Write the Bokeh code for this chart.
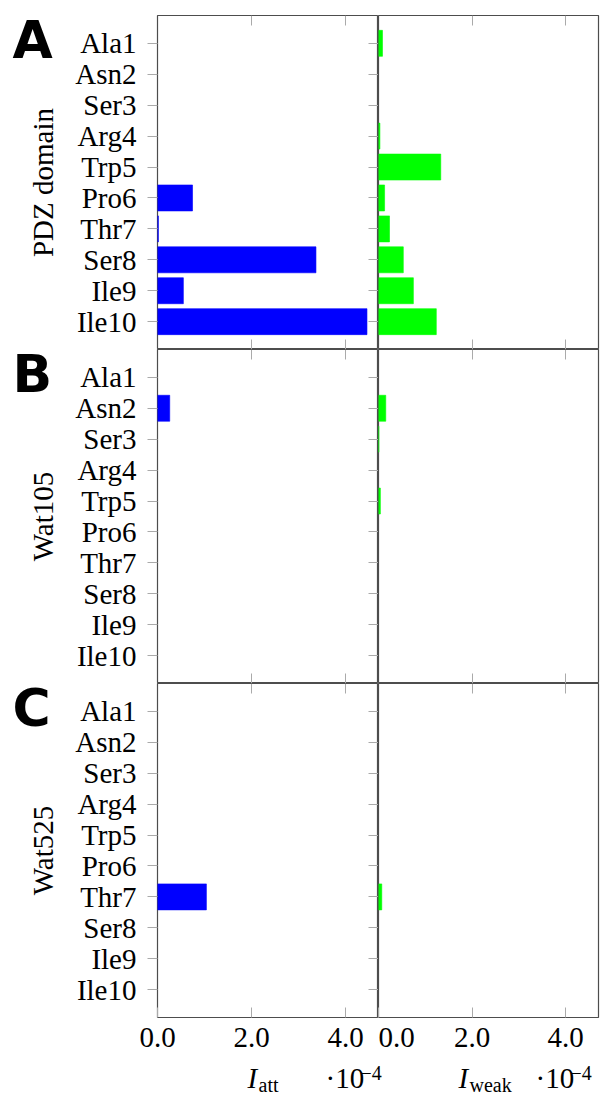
import math
from bokeh.plotting import figure
from bokeh.models import (FactorRange, Range1d, CategoricalAxis, LinearAxis, FixedTicker,
                          PrintfTickFormatter, Label, ColumnDataSource)
from bokeh.layouts import row, column
from bokeh.embed import file_html
from bokeh.resources import INLINE

# ---------------- data (intensities in units of 1e-4) ----------------
residues = ["Ala1", "Asn2", "Ser3", "Arg4", "Trp5", "Pro6", "Thr7", "Ser8", "Ile9", "Ile10"]
row_letters = ["A", "B", "C"]
row_titles = ["PDZ domain", "Wat105", "Wat525"]

i_att_pdz = [0, 0, 0, 0, 0, 0.745, 0.02, 3.37, 0.55, 4.455]
i_weak_pdz = [0.085, 0, 0, 0.03, 1.33, 0.13, 0.235, 0.53, 0.745, 1.235]
i_att_wat105 = [0, 0.26, 0, 0, 0, 0, 0, 0, 0, 0]
i_weak_wat105 = [0, 0.155, 0.01, 0, 0.04, 0, 0, 0, 0, 0]
i_att_wat525 = [0, 0, 0, 0, 0, 0, 1.04, 0, 0, 0]
i_weak_wat525 = [0, 0, 0, 0, 0, 0, 0.07, 0, 0, 0]

att_rows = [i_att_pdz, i_att_wat105, i_att_wat525]
weak_rows = [i_weak_pdz, i_weak_wat105, i_weak_wat525]

x_ticks = [0, 2, 4]
x_max = 4.7
pad = 0.4

# ---------------- styling / layout ----------------
SERIF = "Liberation Serif"
FS = "29px"
SUB = "20px"
TICK = "#aaaaaa"
EDGE = "#4d4d4d"
BLUE = "#0000ff"
GREEN = "#00ff00"

PAGE_W, PAGE_H = 611, 1095
TEXT_COL_W = 67
LEFT_BORDER = 90
FRAME_H = 334
TOP_BORDER = 15
BOTTOM_BORDER = 44
STRIP_H = PAGE_H - TOP_BORDER - 3 * FRAME_H - BOTTOM_BORDER

y_lo = -pad
y_hi = len(residues) + pad


def blank_fig(w, h):
    f = figure(width=w, height=h, min_border=0, min_border_left=0, min_border_right=0,
               min_border_top=0, min_border_bottom=0,
               x_range=Range1d(0, 1), y_range=Range1d(0, 1),
               x_axis_location=None, y_axis_location=None, toolbar_location=None,
               output_backend="svg", background_fill_color="white",
               border_fill_color="white", outline_line_color=None)
    f.grid.visible = False
    return f


def make_fig(col, r, vals, color):
    bottom = r == 2
    fig = figure(
        x_range=Range1d(0, x_max),
        y_range=FactorRange(factors=residues[::-1], range_padding=pad,
                            range_padding_units="absolute"),
        frame_width=221 if col == 0 else 220,
        frame_height=FRAME_H,
        min_border_left=LEFT_BORDER if col == 0 else 0,
        min_border_right=0 if col == 0 else 13,
        min_border_top=TOP_BORDER if r == 0 else 0,
        min_border_bottom=BOTTOM_BORDER if bottom else 0,
        x_axis_location=None, y_axis_location=None,
        toolbar_location=None, output_backend="svg",
        background_fill_color="white", border_fill_color="white",
    )
    fig.grid.visible = False
    fig.outline_line_color = EDGE
    fig.outline_line_width = 1.2

    res = [q for q, v in zip(residues, vals) if v > 0]
    vv = [v for v in vals if v > 0]
    src = ColumnDataSource(dict(res=res, val=vv))
    fig.hbar(y="res", left=0, right="val", height=0.84, source=src,
             fill_color=color, line_color=color, line_width=0.6)

    ab = LinearAxis(ticker=FixedTicker(ticks=[2, 4]), fixed_location=y_hi,
                    major_tick_in=10, major_tick_out=0, minor_tick_out=0,
                    minor_tick_line_color=None, major_tick_line_color=TICK,
                    axis_line_color=None, major_label_text_color=None)
    fig.add_layout(ab, "above")

    if bottom:
        be = LinearAxis(ticker=FixedTicker(ticks=x_ticks),
                        formatter=PrintfTickFormatter(format="%.1f"),
                        major_tick_in=10, major_tick_out=0, minor_tick_out=0,
                        minor_tick_line_color=None, major_tick_line_color=TICK,
                        axis_line_color=None,
                        major_label_text_font=SERIF, major_label_text_font_size=FS,
                        major_label_text_color="black", major_label_standoff=10)
    else:
        be = LinearAxis(ticker=FixedTicker(ticks=[2, 4]), fixed_location=y_lo,
                        major_tick_in=10, major_tick_out=0, minor_tick_out=0,
                        minor_tick_line_color=None, major_tick_line_color=TICK,
                        axis_line_color=None, major_label_text_color=None)
    fig.add_layout(be, "below")

    if col == 0:
        la = CategoricalAxis(major_tick_out=10, major_tick_in=0,
                             major_tick_line_color=TICK, axis_line_color=None,
                             major_label_text_font=SERIF, major_label_text_font_size=FS,
                             major_label_text_color="black", major_label_standoff=11)
        fig.add_layout(la, "left")
        ra = CategoricalAxis(fixed_location=x_max, major_tick_in=10, major_tick_out=0,
                             major_tick_line_color=TICK, axis_line_color=None,
                             major_label_text_color=None)
        fig.add_layout(ra, "right")
    return fig


# left text column: panel letters and row titles (positions measured from top of page)
text_col = blank_fig(TEXT_COL_W, PAGE_H)
for r in range(3):
    panel_top = TOP_BORDER + r * FRAME_H
    text_col.add_layout(Label(x=12, y=PAGE_H - (panel_top + 24), x_units="screen",
                              y_units="screen", text=row_letters[r], text_font="DejaVu Sans",
                              text_font_style="bold", text_font_size="52px",
                              text_baseline="middle", text_align="left", text_color="black"))
    text_col.add_layout(Label(x=42, y=PAGE_H - (panel_top + FRAME_H / 2), x_units="screen",
                              y_units="screen", angle=math.pi / 2, text=row_titles[r],
                              text_font=SERIF, text_font_size=FS, text_baseline="middle",
                              text_align="center", text_color="black"))

# bottom strip with the axis titles
strip = blank_fig(PAGE_W - TEXT_COL_W, STRIP_H)
common = dict(x_units="screen", y_units="screen", text_font=SERIF,
              text_baseline="middle", text_align="left", text_color="black")
for sub, xi, xs, xd, xe in [("att", 180, 191, 258, 293), ("weak", 391, 402, 468, 503)]:
    strip.add_layout(Label(x=xi, y=18, text="I", text_font_size=FS, text_font_style="italic",
                           **common))
    strip.add_layout(Label(x=xs, y=11, text=sub, text_font_size=SUB, **common))
    strip.add_layout(Label(x=xd, y=18, text="\u00b710", text_font_size=FS, **common))
    strip.add_layout(Label(x=xe, y=23, text="\u22124", text_font_size=SUB, **common))

rows = []
for r in range(3):
    rows.append(row(make_fig(0, r, att_rows[r], BLUE), make_fig(1, r, weak_rows[r], GREEN)))
layout = row(text_col, column(*rows, strip))

with open("out.html", "w") as f:
    f.write(file_html(layout, INLINE))
